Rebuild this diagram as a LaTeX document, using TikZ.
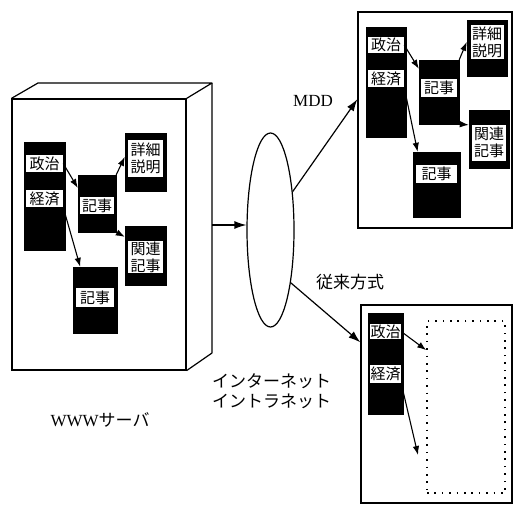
\documentclass[tikz,border=0pt]{standalone}
\usepackage{fontspec}
\setmainfont{Liberation Serif}
\newfontfamily\jpfont{Noto Sans CJK JP}
\usetikzlibrary{arrows.meta,shapes.geometric,calc}
\tikzset{
	page block/.style={
		rectangle,
		fill=black,
		draw=black,
		inner sep=0pt
	},
	page label/.style={
		rectangle,
		fill=white,
		inner sep=0pt,
		align=center,
		font=\jpfont\fontsize{15}{17}\selectfont
	},
	link/.style={% arrows between pages
		-{Latex[length=9pt,width=6.5pt]},
		line width=1.1pt
	},
	flow/.style={% arrows between server, net and clients
		-{Latex[length=12pt,width=8pt]},
		line width=1.2pt
	},
	frame/.style={
		rectangle,
		draw,
		line width=1.2pt,
		inner sep=0pt
	},
	caption/.style={
		inner sep=0pt,
		align=left,
		font=\jpfont\fontsize{17}{20}\selectfont
	}
}

\begin{document}
\begin{tikzpicture}[x=1pt,y=-1pt]
	\useasboundingbox (0,0) rectangle (513,504);

	% WWW server box
	\node[frame,minimum width=174pt,minimum height=271pt] (s-front) at (99,234.5) {};
	\coordinate (s-back-left) at (38,83);
	\coordinate (s-back-right) at (212,83);
	\coordinate (s-back-bottom) at (212,353);
	\draw[line width=1.2pt,line join=round] (s-front.north west) -- (s-back-left) -- (s-back-right) -- (s-front.north east);
	\draw[line width=1.2pt,line join=round] (s-back-right) -- (s-back-bottom) -- (s-front.south east);
	\coordinate (s-out) at (212,225);

	\node[page block,minimum width=41pt,minimum height=108pt] (s-col) at (44.5,196) {};
	\node[page label,minimum width=37pt,minimum height=17pt] (s-seiji) at (44.5,163.5) {政治};
	\node[page label,minimum width=37pt,minimum height=17pt] (s-keizai) at (44.5,198.5) {経済};
	\node[page block,minimum width=38pt,minimum height=57pt] (s-kiji) at (97,203.5) {};
	\node[page label,minimum width=34pt,minimum height=17pt] at (97,205.5) {記事};
	\node[page block,minimum width=41pt,minimum height=58pt] (s-shosai) at (145.5,162) {};
	\node[page label,minimum width=35pt,minimum height=37pt] at (145.5,158.5) {詳細\\説明};
	\node[page block,minimum width=41pt,minimum height=59pt] (s-kanren) at (145.5,255.5) {};
	\node[page label,minimum width=35pt,minimum height=32pt] at (145.5,257) {関連\\記事};
	\node[page block,minimum width=44pt,minimum height=66pt] (s-kiji2) at (95,300) {};
	\node[page label,minimum width=38pt,minimum height=19pt] at (95,297.5) {記事};

	\draw[link] (s-seiji.east) -- (s-kiji.141);
	\draw[link] (s-kiji.north east) -- (s-shosai.166);
	\draw[link] (s-kiji.south east) -- (s-kanren.138);
	\draw[link] (s-keizai.south east) -- (s-kiji2.114);

	\node[caption] (s-name) at (100,420) {{\rmfamily WWW}サーバ};

	% internet / intranet
	\node[ellipse,draw,line width=1.2pt,minimum width=47pt,minimum height=194pt,inner sep=0pt] (net) at (270.5,230) {};
	\node[caption,anchor=west] (net-name) at (212,391) {インターネット\\イントラネット};
	\draw[flow] (s-out) -- (s-out -| net.west);

	% client with MDD
	\node[frame,minimum width=154pt,minimum height=216pt] (m-frame) at (435,120) {};
	\node[page block,minimum width=40pt,minimum height=110pt] (m-col) at (386,82) {};
	\node[page label,minimum width=36pt,minimum height=16pt] (m-seiji) at (386,45) {政治};
	\node[page label,minimum width=36pt,minimum height=17pt] (m-keizai) at (386,78.5) {経済};
	\node[page block,minimum width=40pt,minimum height=64pt] (m-kiji) at (439,92) {};
	\node[page label,minimum width=36pt,minimum height=18pt] at (439,88) {記事};
	\node[page block,minimum width=40pt,minimum height=56pt] (m-shosai) at (487,48) {};
	\node[page label,minimum width=33pt,minimum height=34pt] at (487,42) {詳細\\説明};
	\node[page block,minimum width=40pt,minimum height=58pt] (m-kanren) at (489,139) {};
	\node[page label,minimum width=34pt,minimum height=36pt] at (489,142.5) {関連\\記事};
	\node[page block,minimum width=47pt,minimum height=65pt] (m-kiji2) at (436.5,184.5) {};
	\node[page label,minimum width=41pt,minimum height=18pt] at (436.5,174) {記事};

	\draw[link] (m-seiji.east) -- (m-kiji.131);
	\draw[link] (m-kiji.north east) -- (m-shosai.163);
	\draw[link] (m-kiji.south east) -- (m-kanren.145);
	\draw[link] (m-keizai.south east) -- (m-kiji2.120);

	\draw[flow] (net.60) -- (m-frame.165);
	\node[inner sep=0pt,font=\fontsize{17}{20}\selectfont] (mdd) at (313,101) {MDD};

	% conventional client
	\node[frame,minimum width=151pt,minimum height=198pt] (c-box) at (436.5,404) {};
	\node[page block,minimum width=35pt,minimum height=101pt] (c-col) at (385.5,363.5) {};
	\node[page label,minimum width=31pt,minimum height=15pt] (c-seiji) at (385.5,331.5) {政治};
	\node[page label,minimum width=31pt,minimum height=18pt] (c-keizai) at (385.5,374) {経済};
	\node[draw,line width=1.6pt,dash pattern=on 1.6pt off 5.8pt,minimum width=78pt,minimum height=172pt,inner sep=0pt] (c-frame) at (466,407) {};
	\coordinate (c-drop) at (418,455);

	\draw[link] (c-seiji.east) -- (c-frame.125);
	\draw[link] (c-keizai.south east) -- (c-drop);

	\draw[flow] (net.291) -- (c-box.141);
	\node[caption] (c-name) at (350,282) {従来方式};
\end{tikzpicture}
\end{document}
